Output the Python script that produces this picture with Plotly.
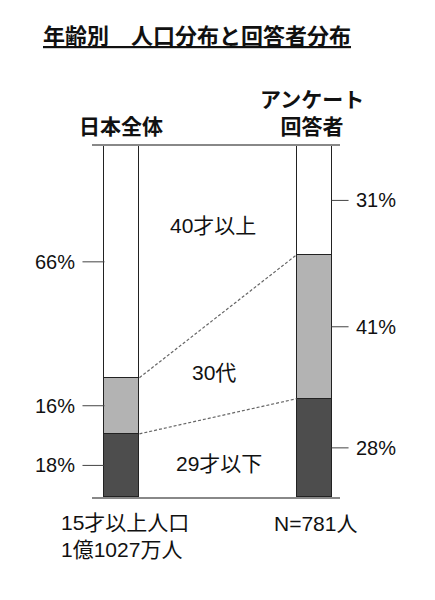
import plotly.graph_objects as go
import numpy as np

# ---- data ----
categories = ["日本全体", "アンケート回答者"]
segment_names = ["29才以下", "30代", "40才以上"]
under29 = [18, 28]
thirties = [16, 41]
over40 = [66, 31]
pct_labels = [["18%", "16%", "66%"], ["28%", "41%", "31%"]]
bottom_left = "15才以上人口<br>1億1027万人"
bottom_right = "N=781人"
title_text = "年齢別　人口分布と回答者分布"

# ---- styling ----
OFF = 8  # page body margin
W, H = 435 - OFF, 600 - OFF
L, T = 92 - OFF, 146 - OFF
R = W - (340 - OFF)
B = H - (497 - OFF)
PW, PH = W - L - R, H - T - B
bar_w = 0.182
x_pos = [0, 1]
xmin, xmax = -0.156, 1.135
colors = ["#4d4d4d", "#b3b3b3", "#ffffff"]
FONT = "Liberation Sans, Arial, Noto Sans CJK JP"
CJK = "Noto Sans CJK JP"


def pxp(px):
    return (px - OFF - L) / PW


def pyp(py):
    return (T + PH - (py - OFF)) / PH


def x2paper(x):
    return (x - xmin) / (xmax - xmin)


fig = go.Figure()
series = [under29, thirties, over40]
for name, vals, col in zip(segment_names, series, colors):
    fig.add_trace(go.Bar(
        x=x_pos, y=vals, width=bar_w, name=name,
        marker=dict(color=col, line=dict(color="#222222", width=1)),
        hoverinfo="skip",
    ))

cum = np.cumsum(np.array(series), axis=0)
for k in range(2):
    fig.add_trace(go.Scatter(
        x=[x_pos[0] + bar_w / 2, x_pos[1] - bar_w / 2],
        y=[cum[k][0], cum[k][1]],
        mode="lines", line=dict(color="#666666", width=1.2, dash="3px,2px"),
        hoverinfo="skip", showlegend=False,
    ))

shapes = []
annotations = []
starts = np.vstack([np.zeros(2), cum[:-1]])
mids = starts + np.array(series) / 2
for b in range(2):
    side = -1 if b == 0 else 1
    edge = x_pos[b] + side * bar_w / 2
    tick_len = 22 if b == 0 else 17
    for k in range(3):
        shapes.append(dict(
            type="line", xref="paper", yref="y", xsizemode="pixel",
            xanchor=x2paper(edge),
            x0=0, x1=side * tick_len, y0=mids[k][b], y1=mids[k][b],
            line=dict(color="#444444", width=1),
        ))
        annotations.append(dict(
            x=edge, y=mids[k][b], xref="x", yref="y",
            text=pct_labels[b][k], showarrow=False,
            xanchor="right" if b == 0 else "left", yanchor="middle",
            xshift=side * (tick_len + 5),
            font=dict(size=20, color="#111111", family=FONT),
        ))


def label(px, py, text, size, family, xanchor="center", align="center"):
    annotations.append(dict(
        x=pxp(px), y=pyp(py), xref="paper", yref="paper",
        text=text, showarrow=False, xanchor=xanchor, yanchor="middle",
        align=align, font=dict(size=size, color="#111111", family=family),
    ))


label(197, 34, "<b><u>" + title_text + "</u></b>", 22, CJK)
label(121, 125, "<b>" + categories[0] + "</b>", 21, CJK)
label(312, 111, "<b>アンケート<br>回答者</b>", 21, CJK)
mid_pos = [(219, 463), (214, 372), (213, 225)]
for name, (px, py) in zip(segment_names, mid_pos):
    label(px, py, name, 21, FONT)
label(59, 536, bottom_left, 21, FONT, xanchor="left", align="left")
label(315, 523, bottom_right, 21, FONT)

fig.update_layout(
    width=W, height=H,
    margin=dict(l=L, r=R, t=T, b=B, pad=0),
    barmode="stack", bargap=0,
    showlegend=False,
    paper_bgcolor="white", plot_bgcolor="white",
    xaxis=dict(range=[xmin, xmax], showline=True, mirror=True,
               linecolor="#888888", linewidth=1.5,
               showgrid=False, zeroline=False, showticklabels=False, ticks=""),
    yaxis=dict(range=[0, 100], showline=False, showgrid=False,
               zeroline=False, showticklabels=False, ticks=""),
    shapes=shapes, annotations=annotations,
)

fig.write_html("out.html")
